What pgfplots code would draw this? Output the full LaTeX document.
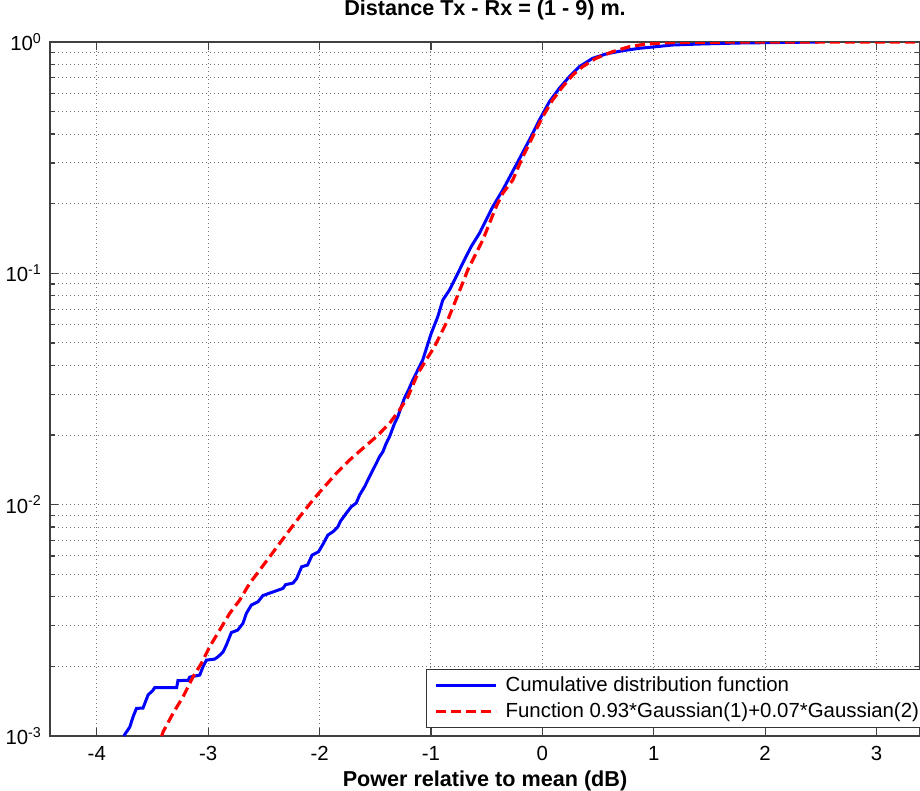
\documentclass[border=0pt]{standalone}
\usepackage{fontspec}
\setmainfont{Liberation Sans}
\usepackage{pgfplots}
\pgfplotsset{compat=1.18}
\definecolor{mblue}{RGB}{0,0,255}
\definecolor{mred}{RGB}{255,0,0}
\begin{document}
\begin{tikzpicture}
\begin{axis}[
  scale only axis,
  width=435pt, height=347pt,
  xmin=-4.42, xmax=3.39,
  ymode=log, ymin=1e-3, ymax=1,
  xtick={-4,-3,-2,-1,0,1,2,3},
  ytick={1e-3,1e-2,1e-1,1},
  yticklabels={10\textsuperscript{-3},10\textsuperscript{-2},10\textsuperscript{-1},10\textsuperscript{0}},
  /pgf/number format/assume math mode=true,
  tick label style={font=\fontsize{10.2}{12}\selectfont},
  xticklabel style={anchor=base, yshift=-12.3pt},
  yticklabel style={xshift=-0.5pt},
  grid=both,
  major grid style={black!55, dash pattern=on 0.6pt off 1.4pt, line width=0.5pt},
  minor grid style={black!55, dash pattern=on 0.6pt off 1.4pt, line width=0.5pt},
  axis line style={black!75, line width=0.7pt},
  tick style={black!75, line width=0.6pt},
  major tick length=4pt, minor tick length=2.5pt,
  title={Distance Tx - Rx = (1 - 9) m.},
  title style={font=\bfseries\fontsize{10.8}{12}\selectfont, at={(axis description cs:0.5,1)}, anchor=base, yshift=7.5pt},
  xlabel={Power relative to mean (dB)},
  xlabel style={font=\bfseries\fontsize{10.8}{12}\selectfont, at={(axis description cs:0.5,0)}, anchor=base, yshift=-25pt},
  legend style={at={(axis description cs:0.432,0.0115)}, anchor=south west, draw=black!80, fill=white, line width=0.6pt,
    font=\fontsize{10.2}{12}\selectfont, inner xsep=4pt, inner ysep=1.5pt, row sep=0pt, overlay},
  legend cell align=left,
  legend image code/.code={\draw[#1] (0pt,0pt) -- (30pt,0pt); \path (32pt,0pt);},
]
\addplot[mblue, line width=1.5pt] coordinates {
(-3.758,0.001) (-3.704,0.001093) (-3.674,0.001211) (-3.644,0.001316) (-3.585,0.001321)
(-3.540,0.001503) (-3.495,0.001579) (-3.480,0.001619) (-3.283,0.001619) (-3.271,0.001736)
(-3.181,0.00174) (-3.166,0.001797) (-3.076,0.001834) (-3.047,0.001991) (-3.016,0.002128)
(-2.942,0.00215) (-2.912,0.0022) (-2.867,0.002305) (-2.837,0.002472) (-2.792,0.0028)
(-2.735,0.00287) (-2.688,0.003068) (-2.657,0.00339) (-2.613,0.00368) (-2.553,0.003804)
(-2.509,0.004045) (-2.448,0.004147) (-2.329,0.004345) (-2.305,0.004512) (-2.239,0.004581)
(-2.206,0.004791) (-2.161,0.005389) (-2.108,0.005482) (-2.067,0.006056) (-2.009,0.006259)
(-1.964,0.006823) (-1.926,0.007387) (-1.881,0.007634) (-1.836,0.008022) (-1.812,0.00849)
(-1.761,0.009172) (-1.716,0.009793) (-1.671,0.01016) (-1.641,0.011) (-1.596,0.01195)
(-1.552,0.0132) (-1.491,0.01509) (-1.462,0.01611) (-1.432,0.01693) (-1.402,0.01841)
(-1.372,0.01966) (-1.327,0.02246) (-1.298,0.02399) (-1.267,0.02649) (-1.238,0.0289)
(-1.202,0.0313) (-1.163,0.03457) (-1.074,0.0422) (-0.998,0.05501) (-0.939,0.06493)
(-0.894,0.07664) (-0.834,0.08468) (-0.774,0.09667) (-0.715,0.1105) (-0.640,0.1303)
(-0.565,0.1489) (-0.505,0.17) (-0.446,0.194) (-0.356,0.2291) (-0.236,0.2938)
(-0.117,0.3771) (-0.027,0.46) (0.063,0.5519) (0.152,0.6307) (0.242,0.7079)
(0.332,0.7822) (0.451,0.8503) (0.571,0.8874) (0.720,0.917) (0.870,0.9392)
(1.020,0.9543) (1.169,0.9706) (1.408,0.98) (1.767,0.99) (2.126,0.995) (2.48,1.0)
};
\addlegendentry{Cumulative distribution function}
\addplot[mred, line width=1.6pt, dash pattern=on 5pt off 2.5pt] coordinates {
(-3.417,0.001) (-3.405,0.001042) (-3.316,0.001252) (-3.226,0.001477) (-3.136,0.001803)
(-3.061,0.002061) (-2.987,0.00243) (-2.897,0.00287) (-2.807,0.00339) (-2.717,0.003869)
(-2.628,0.004567) (-2.538,0.005216) (-2.448,0.005954) (-2.359,0.006803) (-2.269,0.007767)
(-2.179,0.008867) (-2.060,0.01047) (-1.970,0.01176) (-1.850,0.01365) (-1.731,0.01559)
(-1.612,0.01751) (-1.491,0.01966) (-1.372,0.02246) (-1.283,0.02564) (-1.208,0.02918)
(-1.118,0.03695) (-1.043,0.0422) (-0.969,0.04816) (-0.909,0.05501) (-0.849,0.06283)
(-0.789,0.07416) (-0.729,0.08752) (-0.670,0.1033) (-0.595,0.122) (-0.535,0.1393)
(-0.475,0.1645) (-0.415,0.194) (-0.356,0.2218) (-0.266,0.2531) (-0.176,0.3191)
(-0.087,0.3897) (0.003,0.4753) (0.092,0.5615) (0.182,0.6409) (0.272,0.72)
(0.361,0.7822) (0.481,0.8503) (0.630,0.9079) (0.780,0.9543) (0.930,0.9803)
(1.109,0.993) (1.408,0.998) (2.0,0.9995) (3.39,1.0)
};
\addlegendentry{Function 0.93*Gaussian(1)+0.07*Gaussian(2)}
\end{axis}
\pgfresetboundingbox
\path[use as bounding box] ([xshift=-25pt,yshift=-27.5pt]current axis.south west) rectangle ([yshift=21pt]current axis.north east);
\end{tikzpicture}
\end{document}
